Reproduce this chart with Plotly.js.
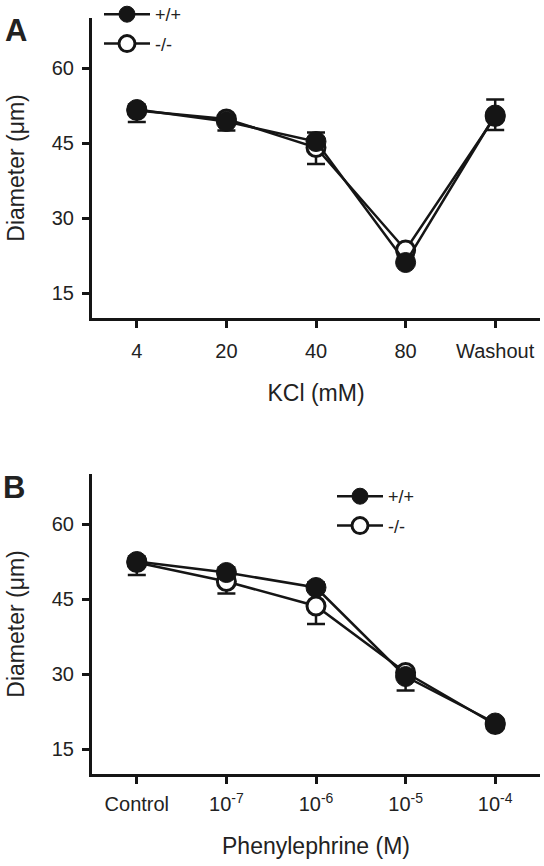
<!DOCTYPE html>
<html>
<head>
<meta charset="utf-8">
<script src="https://cdn.plot.ly/plotly-3.0.1.min.js"></script>
<style>html,body{margin:0;padding:0;background:#fff;}#chart{width:544px;height:866px;}</style>
</head>
<body>
<div id="chart"></div>
<script>
// Panel A: KCl
const categoriesA = ['4', '20', '40', '80', 'Washout'];
const wtA = [51.7, 49.3, 45.3, 21.1, 50.6];
const koA = [51.5, 49.8, 44.1, 23.6, 50.3];
const wtAErr = [1.0, 1.0, 1.8, 1.0, 3.1];
const koAErr = [2.3, 2.3, 3.3, 1.0, 2.7];

// Panel B: Phenylephrine
const categoriesB = ['Control', '10<sup>-7</sup>', '10<sup>-6</sup>', '10<sup>-5</sup>', '10<sup>-4</sup>'];
const wtB = [52.5, 50.3, 47.3, 29.5, 20.2];
const koB = [52.3, 48.5, 43.6, 30.3, 19.9];
const wtBErr = [1.0, 1.0, 1.0, 1.0, 0.8];
const koBErr = [2.5, 2.4, 3.6, 3.6, 0.8];

const seriesNames = ['+/+', '-/-'];

const INK = '#151515';
const TXT = '#222222';
const zeros = n => new Array(n).fill(0);

function wtTrace(x, y, err, xa, ya, leg) {
  return {
    x: x, y: y, xaxis: xa, yaxis: ya, type: 'scatter', mode: 'lines+markers',
    name: seriesNames[0], legend: leg, legendgroup: leg + 'wt', legendrank: 1,
    line: {color: INK, width: 2.5},
    marker: {color: INK, size: 20, line: {color: INK, width: 1}},
    error_y: {type: 'data', symmetric: false, array: err, arrayminus: zeros(err.length),
              color: INK, thickness: 2.5, width: 9},
    cliponaxis: false
  };
}
function koTrace(x, y, err, xa, ya, leg) {
  return {
    x: x, y: y, xaxis: xa, yaxis: ya, type: 'scatter', mode: 'lines+markers',
    name: seriesNames[1], legend: leg, legendgroup: leg + 'ko', legendrank: 2,
    line: {color: INK, width: 2.5},
    marker: {color: '#ffffff', size: 18, line: {color: INK, width: 3}},
    error_y: {type: 'data', symmetric: false, array: zeros(err.length), arrayminus: err,
              color: INK, thickness: 2.5, width: 9},
    cliponaxis: false
  };
}

const data = [
  koTrace(categoriesA, koA, koAErr, 'x', 'y', 'legend'),
  wtTrace(categoriesA, wtA, wtAErr, 'x', 'y', 'legend'),
  koTrace(categoriesB, koB, koBErr, 'x2', 'y2', 'legend2'),
  wtTrace(categoriesB, wtB, wtBErr, 'x2', 'y2', 'legend2')
];

const W = 544, H = 866;
const fontFam = '"Liberation Sans", Arial, Helvetica, sans-serif';

function xAxis(anchor, title, standoff) {
  return {
    anchor: anchor, domain: [92 / W, 540 / W], type: 'category', range: [-0.5, 4.5],
    showline: true, linecolor: INK, linewidth: 3, mirror: false,
    ticks: 'outside', ticklen: 7, tickwidth: 3, tickcolor: INK,
    ticklabelstandoff: standoff,
    showgrid: false, zeroline: false, fixedrange: true,
    tickfont: {family: fontFam, size: 20, color: TXT},
    title: {text: title, font: {family: fontFam, size: 23, color: TXT}, standoff: 24},
    automargin: false
  };
}
function yAxis(anchor, top, bottom) {
  return {
    anchor: anchor, domain: [1 - bottom / H, 1 - top / H], range: [10, 70],
    tickvals: [15, 30, 45, 60],
    showline: true, linecolor: INK, linewidth: 3, mirror: false,
    ticks: 'outside', ticklen: 7, tickwidth: 3, tickcolor: INK,
    ticklabelstandoff: 4,
    showgrid: false, zeroline: false, fixedrange: true,
    tickfont: {family: fontFam, size: 20, color: TXT},
    title: {text: 'Diameter (\u03bcm)', font: {family: fontFam, size: 23, color: TXT}, standoff: 21},
    automargin: false
  };
}

const legendBase = {
  xanchor: 'left', yanchor: 'top', bgcolor: 'rgba(0,0,0,0)',
  font: {family: fontFam, size: 18, color: TXT}, traceorder: 'grouped', tracegroupgap: 3,
  itemsizing: 'trace', itemwidth: 46
};

const layout = {
  width: W, height: H,
  margin: {l: 0, r: 0, t: 0, b: 0, autoexpand: false},
  paper_bgcolor: '#ffffff', plot_bgcolor: '#ffffff',
  font: {family: fontFam, color: TXT},
  xaxis: xAxis('y', 'KCl (mM)', 6),
  yaxis: yAxis('x', 18, 318),
  xaxis2: xAxis('y2', 'Phenylephrine (M)', 3),
  yaxis2: yAxis('x2', 474, 774),
  showlegend: true,
  legend: Object.assign({}, legendBase, {x: 99 / W, y: 1 + 4 / H}),
  legend2: Object.assign({}, legendBase, {x: 332 / W, y: 1 - 478 / H}),
  annotations: [
    {text: '<b>A</b>', xref: 'paper', yref: 'paper', x: 16 / W, y: 1 - 31 / H, xanchor: 'center', yanchor: 'middle',
     showarrow: false, font: {family: fontFam, size: 31, color: TXT}},
    {text: '<b>B</b>', xref: 'paper', yref: 'paper', x: 14 / W, y: 1 - 487 / H, xanchor: 'center', yanchor: 'middle',
     showarrow: false, font: {family: fontFam, size: 31, color: TXT}}
  ]
};

Plotly.newPlot('chart', data, layout, {displayModeBar: false, staticPlot: true});
</script>
</body>
</html>
